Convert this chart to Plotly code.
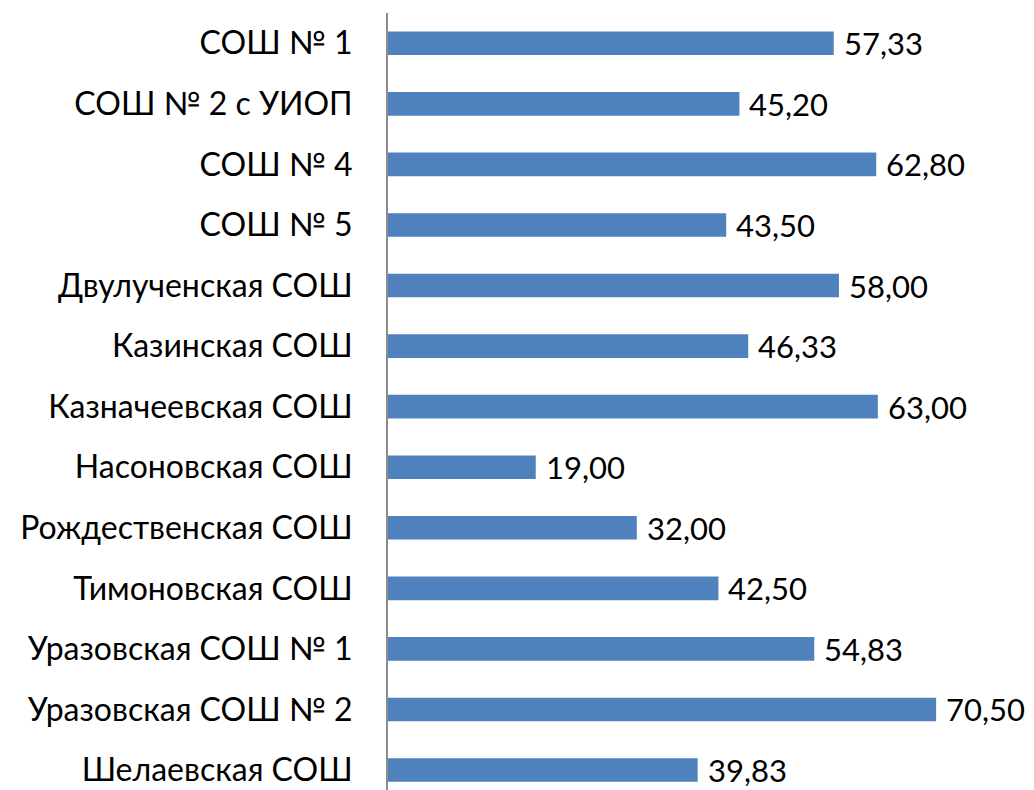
import plotly.graph_objects as go

categories = [
    "СОШ № 1",
    "СОШ № 2 с УИОП",
    "СОШ № 4",
    "СОШ № 5",
    "Двулученская СОШ",
    "Казинская СОШ",
    "Казначеевская СОШ",
    "Насоновская СОШ",
    "Рождественская СОШ",
    "Тимоновская СОШ",
    "Уразовская СОШ № 1",
    "Уразовская СОШ № 2",
    "Шелаевская СОШ",
]
values = [57.33, 45.20, 62.80, 43.50, 58.00, 46.33, 63.00, 19.00, 32.00, 42.50, 54.83, 70.50, 39.83]
value_labels = [f"{v:.2f}".replace(".", ",") for v in values]

FONT = "Lato"
SIZE = 32
fig = go.Figure()
fig.add_trace(go.Bar(
    y=categories, x=values, orientation="h",
    marker=dict(color="#4F81BD", line=dict(width=0)),
    hoverinfo="skip",
))
for c, v, t in zip(categories, values, value_labels):
    fig.add_annotation(x=v, y=c, text=t, showarrow=False, xanchor="left",
                       xshift=8, yshift=0, font=dict(family=FONT, size=31, color="black"))

fig.update_layout(
    width=1026, height=782,
    margin=dict(l=380, r=24, t=5, b=0, autoexpand=False),
    paper_bgcolor="white", plot_bgcolor="white",
    bargap=0.61, showlegend=False,
    font=dict(family=FONT, size=SIZE, color="black"),
)
fig.update_xaxes(range=[0, 80], visible=False)
fig.update_yaxes(
    range=[12.33, -0.5], showline=True, linecolor="#8C8C8C", linewidth=2,
    showgrid=False, zeroline=False, ticks="", ticklabelstandoff=27,
    tickfont=dict(family=FONT, size=SIZE, color="black"),
)
fig.write_html("out.html")
